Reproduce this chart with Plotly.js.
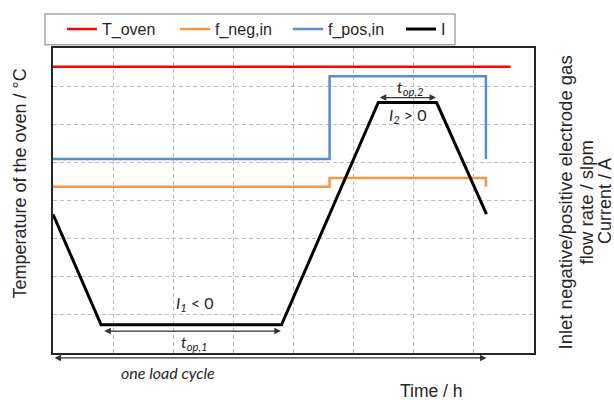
<!DOCTYPE html>
<html>
<head>
<meta charset="utf-8">
<script src="https://cdn.plot.ly/plotly-3.0.1.min.js"></script>
<style>html,body{margin:0;padding:0;background:#fff;}#chart{width:614px;height:400px;}</style>
</head>
<body>
<div id="chart"></div>
<script>
// Time axis (arbitrary units, 0..8 grid)
const timeOven = [0, 7.61];
const tOven    = [7.51, 7.51];

const timeFlow = [0, 4.60, 4.60, 7.20, 7.20];
const fNegIn   = [4.36, 4.36, 4.59, 4.59, 4.36];
const fPosIn   = [5.09, 5.09, 7.26, 7.26, 5.09];

const timeCurrent = [0, 0.80, 3.80, 5.41, 6.38, 7.21];
const current     = [3.64, 0.74, 0.74, 6.57, 6.57, 3.64];

const seriesNames = ['T_oven', 'f_neg,in', 'f_pos,in', 'I'];

// annotation anchor values (data units)
const top1Span = [0.83, 3.79, 0.574];   // x start, x end, y
const top2Span = [5.41, 6.37, 6.70];
const cycleSpan = [0, 7.21];            // x start, x end (drawn just below the plot)
const labelI1 = [2.365, 1.30];
const labelTop1 = [2.34, 0.28];
const labelI2 = [5.91, 6.23];
const labelTop2 = [5.93, 6.96];
const labelCycleX = 1.92;

const traces = [
  {x: timeOven, y: tOven, name: seriesNames[0], mode: 'lines', line: {color: '#ff0000', width: 2.5}},
  {x: timeFlow, y: fNegIn, name: seriesNames[1], mode: 'lines', line: {color: '#f79646', width: 2.5}},
  {x: timeFlow, y: fPosIn, name: seriesNames[2], mode: 'lines', line: {color: '#558ed5', width: 2.5}},
  {x: timeCurrent, y: current, name: seriesNames[3], mode: 'lines', line: {color: '#000000', width: 3}}
];

const txtColor = '#262626';
const noteFont = {family: 'Lato, "Liberation Sans", sans-serif', size: 16, color: txtColor};

function span(s) {
  return {x: s[1], y: s[2], ax: s[0], ay: s[2], xref: 'x', yref: 'y', axref: 'x', ayref: 'y',
          text: '', showarrow: true, arrowhead: 2, arrowside: 'end+start', arrowsize: 1,
          arrowwidth: 1.3, arrowcolor: '#333333', standoff: 0, startstandoff: 0};
}
function label(p, text) {
  return {x: p[0], y: p[1], xref: 'x', yref: 'y', text: text, showarrow: false,
          font: noteFont, xanchor: 'center', yanchor: 'middle'};
}

const annotations = [
  span(top1Span), span(top2Span),
  {x: cycleSpan[1], y: (353 - 358) / 307, ax: cycleSpan[0], ay: 0, xref: 'x', yref: 'paper', axref: 'x', ayref: 'pixel',
   text: '', showarrow: true, arrowhead: 2, arrowside: 'end+start', arrowsize: 1,
   arrowwidth: 1.3, arrowcolor: '#333333', standoff: 0, startstandoff: 0},
  label(labelI1, '<i>I</i><sub><i>1</i></sub> &lt; 0'),
  label(labelTop1, '<i>t</i><sub><i>op,1</i></sub>'),
  label(labelI2, '<i>I</i><sub><i>2</i></sub> &gt; 0'),
  label(labelTop2, '<i>t</i><sub><i>op,2</i></sub>'),
  {x: labelCycleX, y: (353 - 373) / 307, xref: 'x', yref: 'paper', text: '<i>one load cycle</i>', showarrow: false,
   font: noteFont, xanchor: 'center', yanchor: 'middle'},
  {xref: 'paper', yref: 'paper', x: (20 - 53) / 481, y: (353 - 182.5) / 307, text: 'Temperature of the oven / °C',
   textangle: -90, showarrow: false, xanchor: 'center', yanchor: 'middle',
   font: {family: '"Liberation Sans", Arial, sans-serif', size: 18, color: txtColor}},
  {xref: 'paper', yref: 'paper', x: (565 - 53) / 481, y: (353 - 201.5) / 307, text: 'Inlet negative/positive electrode gas',
   textangle: -90, showarrow: false, xanchor: 'center', yanchor: 'middle',
   font: {family: '"Liberation Sans", Arial, sans-serif', size: 18.5, color: txtColor}},
  {xref: 'paper', yref: 'paper', x: (586 - 53) / 481, y: (353 - 201.5) / 307, text: 'flow rate / slpm',
   textangle: -90, showarrow: false, xanchor: 'center', yanchor: 'middle',
   font: {family: '"Liberation Sans", Arial, sans-serif', size: 18.5, color: txtColor}},
  {xref: 'paper', yref: 'paper', x: (605 - 53) / 481, y: (353 - 200) / 307, text: 'Current / A',
   textangle: -90, showarrow: false, xanchor: 'center', yanchor: 'middle',
   font: {family: '"Liberation Sans", Arial, sans-serif', size: 18, color: txtColor}},
  {xref: 'paper', yref: 'paper', x: (431 - 53) / 481, y: (353 - 391) / 307, text: 'Time / h',
   showarrow: false, xanchor: 'center', yanchor: 'middle',
   font: {family: '"Liberation Sans", Arial, sans-serif', size: 17.5, color: txtColor}}
];

const axisCommon = {
  range: [0, 8], dtick: 1, tick0: 0, showticklabels: false, ticks: '',
  showgrid: true, gridcolor: '#bdbdbd', gridwidth: 1, griddash: '4px,3px',
  zeroline: false, showline: true, mirror: true, linecolor: '#262626', linewidth: 2,
  fixedrange: true
};

const layout = {
  width: 614, height: 400,
  margin: {l: 53, r: 80, t: 46, b: 47},
  paper_bgcolor: '#ffffff', plot_bgcolor: '#ffffff',
  font: {family: '"Liberation Sans", Arial, sans-serif', color: txtColor},
  xaxis: Object.assign({}, axisCommon),
  yaxis: Object.assign({}, axisCommon),
  showlegend: true,
  legend: {orientation: 'h', x: (62 - 53) / 481, xanchor: 'left', y: 1 + (46 - 27) / 307, yanchor: 'middle',
           bgcolor: 'rgba(0,0,0,0)', borderwidth: 0, font: {size: 16, color: txtColor},
           entrywidth: 68, entrywidthmode: 'pixels', itemwidth: 30, traceorder: 'normal'},
  shapes: [
    {type: 'rect', xref: 'paper', yref: 'paper', x0: (45 - 53) / 481, x1: (455 - 53) / 481,
     y0: 1 + (46 - 42.7) / 307, y1: 1 + (46 - 11.7) / 307, line: {color: '#a6a6a6', width: 1.5}, layer: 'below'}
  ],
  annotations: annotations
};

Plotly.newPlot('chart', traces, layout, {displayModeBar: false, staticPlot: true});
</script>
</body>
</html>
